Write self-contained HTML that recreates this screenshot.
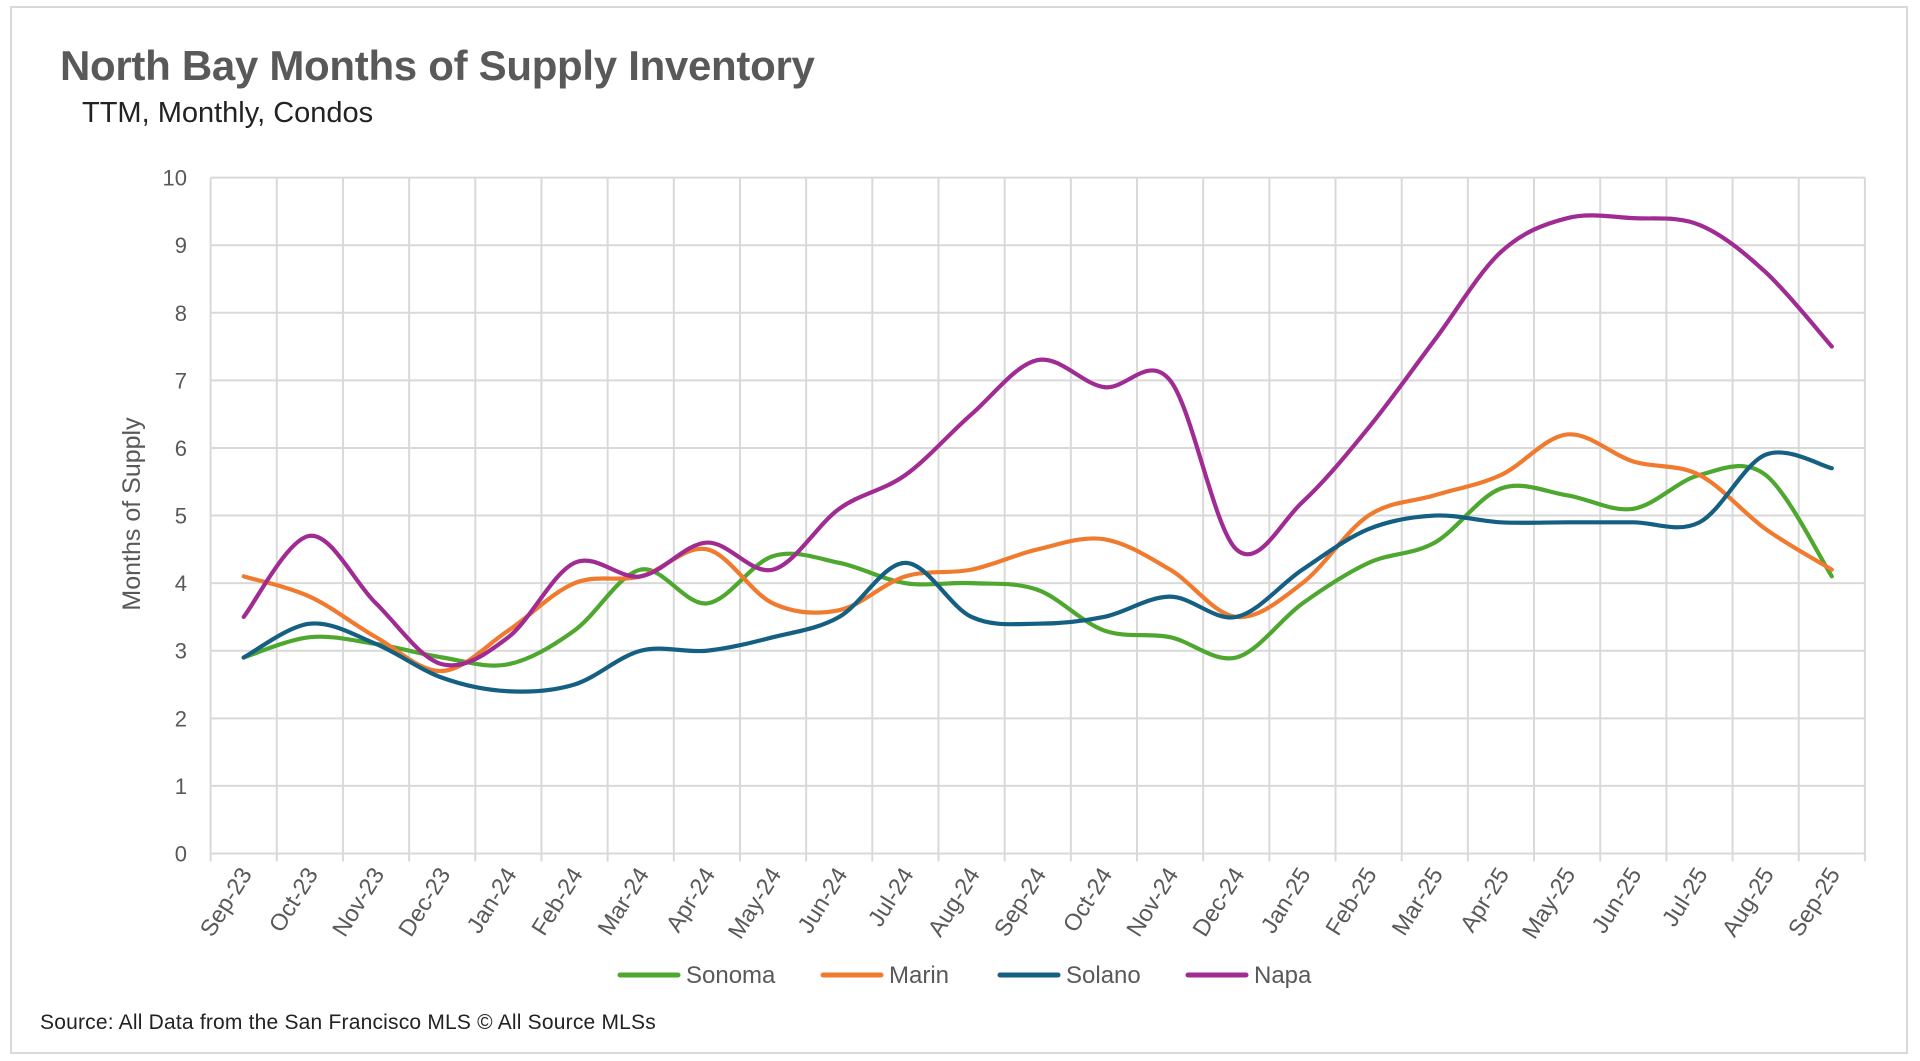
<!DOCTYPE html>
<html><head><meta charset="utf-8">
<style>
html,body{margin:0;padding:0;background:#fff;}
body{width:1920px;height:1061px;overflow:hidden;position:relative;font-family:"Liberation Sans",sans-serif;}
#frame{position:absolute;left:10px;top:6px;width:1898px;height:1048px;border:2px solid #d9d9d9;box-sizing:border-box;}
#title{position:absolute;left:60px;top:42px;font-size:42px;font-weight:bold;color:#595959;letter-spacing:-0.3px;font-family:"Liberation Sans Narrow","Liberation Sans",sans-serif;}
#subtitle{position:absolute;left:82px;top:97px;font-size:29px;color:#222;font-family:"Liberation Sans Narrow","Liberation Sans",sans-serif;}
#source{position:absolute;left:40px;top:1011px;font-size:21px;color:#222;letter-spacing:0.2px;}
svg{position:absolute;left:0;top:0;}
</style></head>
<body>
<div id="frame"></div>
<div id="title">North Bay Months of Supply Inventory</div>
<div id="subtitle">TTM, Monthly, Condos</div>
<div id="source">Source: All Data from the San Francisco MLS © All Source MLSs</div>
<svg id="chart" width="1920" height="1061"></svg>
<script>
const categories = ["Sep-23","Oct-23","Nov-23","Dec-23","Jan-24","Feb-24","Mar-24","Apr-24","May-24","Jun-24","Jul-24","Aug-24","Sep-24","Oct-24","Nov-24","Dec-24","Jan-25","Feb-25","Mar-25","Apr-25","May-25","Jun-25","Jul-25","Aug-25","Sep-25"];
const sonoma = [2.9,3.2,3.1,2.9,2.8,3.3,4.2,3.7,4.4,4.3,4.0,4.0,3.9,3.3,3.2,2.9,3.7,4.3,4.6,5.4,5.3,5.1,5.6,5.6,4.1];
const marin  = [4.1,3.8,3.2,2.7,3.3,4.0,4.1,4.5,3.7,3.6,4.1,4.2,4.5,4.65,4.2,3.5,4.0,5.0,5.3,5.6,6.2,5.8,5.6,4.8,4.2];
const solano = [2.9,3.4,3.1,2.6,2.4,2.5,3.0,3.0,3.2,3.5,4.3,3.5,3.4,3.5,3.8,3.5,4.2,4.8,5.0,4.9,4.9,4.9,4.9,5.9,5.7];
const napa   = [3.5,4.7,3.7,2.8,3.2,4.3,4.1,4.6,4.2,5.1,5.6,6.5,7.3,6.9,7.0,4.5,5.2,6.3,7.6,8.9,9.4,9.4,9.3,8.6,7.5];
const yTicks = [0,1,2,3,4,5,6,7,8,9,10];
const seriesNames = ["Sonoma","Marin","Solano","Napa"];

const svg = document.getElementById('chart');
const NS = "http://www.w3.org/2000/svg";
const L=210.6, R=1864.9, T=177.6, B=853.5, yMax=10;
const step=(R-L)/categories.length;
const xS = i => L + step*(i+0.5);
const yS = v => B - (v/yMax)*(B-T);
function mk(tag, attrs){const e=document.createElementNS(NS,tag);for(const k in attrs)e.setAttribute(k,attrs[k]);svg.appendChild(e);return e;}

yTicks.forEach(t=>{
  const g=mk('line',{x1:L,x2:R,y1:yS(t),y2:yS(t),stroke:'#d9d9d9','stroke-width':2});
  
  
  const tx=mk('text',{x:187,y:yS(t)+8,'text-anchor':'end','font-size':22,fill:'#595959','font-family':'Liberation Sans, sans-serif'});
  tx.textContent=t;
  
  
});
for(let i=0;i<=categories.length;i++){
  const x=L+step*i;
  const g=mk('line',{x1:x,x2:x,y1:T,y2:B+8,stroke:'#d9d9d9','stroke-width':2});
  
  
}
categories.forEach((c,i)=>{
  const x=xS(i)+9, y=874;
  const tx=mk('text',{x:x,y:y,'text-anchor':'end','font-size':23.5,fill:'#595959','font-family':'Liberation Sans, sans-serif',transform:`rotate(-58 ${x} ${y})`});
  tx.textContent=c;
  
  
});
const yt=mk('text',{x:0,y:0,'text-anchor':'middle','font-size':25,fill:'#595959','font-family':'Liberation Sans, sans-serif',transform:'translate(140 514) rotate(-90)'});
yt.textContent='Months of Supply';



function smoothPath(vals){
  const p=vals.map((v,i)=>[xS(i),yS(v)]);
  let d=`M${p[0][0]},${p[0][1]}`;
  const t=0.5/3;
  for(let i=0;i<p.length-1;i++){
    const p0=p[i-1]||p[i], p1=p[i], p2=p[i+1], p3=p[i+2]||p2;
    const c1=[p1[0]+(p2[0]-p0[0])*t, p1[1]+(p2[1]-p0[1])*t];
    const c2=[p2[0]-(p3[0]-p1[0])*t, p2[1]-(p3[1]-p1[1])*t];
    d+=` C${c1[0]},${c1[1]} ${c2[0]},${c2[1]} ${p2[0]},${p2[1]}`;
  }
  return d;
}
const colors={Sonoma:'#4ea72e',Marin:'#f07a2e',Solano:'#156082',Napa:'#a02b93'};
const data={Sonoma:sonoma,Marin:marin,Solano:solano,Napa:napa};
seriesNames.forEach(n=>{
  const p=mk('path',{d:smoothPath(data[n]),fill:'none',stroke:colors[n],'stroke-width':4.2,'stroke-linecap':'round','stroke-linejoin':'round'});
  
  
});
const legX={Sonoma:620,Marin:823,Solano:1000,Napa:1188};
seriesNames.forEach(n=>{
  const x=legX[n], y=975;
  const l=mk('line',{x1:x,x2:x+58,y1:y,y2:y,stroke:colors[n],'stroke-width':5,'stroke-linecap':'round'});
  
  
  const tx=mk('text',{x:x+66,y:y+8,'font-size':24,fill:'#595959','font-family':'Liberation Sans, sans-serif'});
  tx.textContent=n;
  
  
});
</script>
</body></html>
